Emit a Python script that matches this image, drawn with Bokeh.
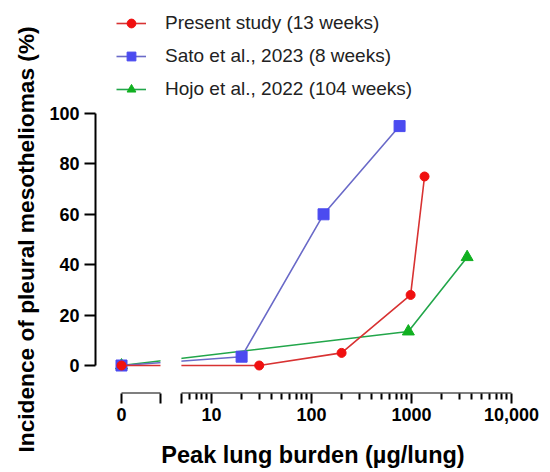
import numpy as np
from bokeh.plotting import figure
from bokeh.models import (LogAxis, FixedTicker, Range1d, BoxAnnotation,
                          Legend, LegendItem, Title)
from bokeh.embed import file_html
from bokeh.resources import INLINE

# ---------------- data ----------------
series_names = ["Present study (13 weeks)",
                "Sato et al., 2023 (8 weeks)",
                "Hojo et al., 2022 (104 weeks)"]

present_dose = [0, 30, 200, 980, 1350]
present_inc = [0, 0, 5, 28, 75]

sato_dose = [0, 20, 132, 760]
sato_inc = [0, 3.5, 60, 95]

hojo_dose = [0, 930, 3600]
hojo_inc = [0, 13.5, 43]

x_tick_values = [0, 10, 100, 1000, 10000]
x_tick_labels = ["0", "10", "100", "1000", "10,000"]
y_tick_values = [0, 20, 40, 60, 80, 100]

x_title = "Peak lung burden (µg/lung)"
y_title = "Incidence of pleural mesotheliomas (%)"

# ---------------- broken-axis geometry ----------------
ZERO_POS = 10 ** 0.1      # where a dose of 0 is placed on the log scale
SEG1_END = 10 ** 0.49     # end of the "0" segment
SEG2_START = 5.0          # start of the log segment
LOG_END = 10000.0

def pos(doses):
    return [ZERO_POS if d == 0 else d for d in doses]

FONT = "Liberation Sans"
Y0, Y1 = -11.11, 144.84

p = figure(width=550, height=472, x_axis_type="log",
           x_range=Range1d(10 ** -0.16, 10 ** 4.19),
           y_range=Range1d(Y0, Y1),
           output_backend="svg", toolbar_location=None,
           min_border_left=95, min_border_right=20,
           min_border_top=0, min_border_bottom=79)
p.outline_line_color = None
p.xgrid.visible = False
p.ygrid.visible = False
p.background_fill_color = "white"

# ---------------- series ----------------
colors = {
    "present": ("#F01010", "#D83232"),
    "sato": ("#4B4BF0", "#6A6AC8"),
    "hojo": ("#10B020", "#22A64A"),
}

g_line = p.line(pos(hojo_dose), hojo_inc, line_color=colors["hojo"][1], line_width=1.6)
g_pts = p.scatter(pos(hojo_dose), hojo_inc, marker="triangle", size=12,
                  fill_color=colors["hojo"][0], line_color=colors["hojo"][0])
b_line = p.line(pos(sato_dose), sato_inc, line_color=colors["sato"][1], line_width=1.6)
b_pts = p.scatter(pos(sato_dose), sato_inc, marker="square", size=11,
                  fill_color=colors["sato"][0], line_color=colors["sato"][0])
r_line = p.line(pos(present_dose), present_inc, line_color=colors["present"][1], line_width=1.6)
r_pts = p.scatter(pos(present_dose), present_inc, marker="circle", size=9,
                  fill_color=colors["present"][0], line_color=colors["present"][0])

# gap of the broken axis
gap = BoxAnnotation(left=SEG1_END, right=SEG2_START, bottom=-8, top=15,
                    fill_color="white", fill_alpha=1.0, line_color=None)
p.add_layout(gap)

# ---------------- axes ----------------
major = [pos([v])[0] for v in x_tick_values] + [SEG1_END, SEG2_START]
overrides = {pos([v])[0]: lab for v, lab in zip(x_tick_values, x_tick_labels)}
overrides[SEG1_END] = ""
overrides[SEG2_START] = ""
minor = []
for dec in [1, 10, 100, 1000]:
    for m in range(2, 10):
        t = m * dec
        if SEG2_START < t < LOG_END and t not in (10, 100, 1000):
            minor.append(float(t))

xa = p.xaxis[0]
xa.ticker = FixedTicker(ticks=major, minor_ticks=minor)
xa.bounds = (ZERO_POS, LOG_END)
xa.major_label_overrides = overrides
xa.axis_line_color = None
xa.major_tick_out = 10
xa.major_tick_in = 0
xa.minor_tick_out = 6
xa.minor_tick_in = 0
xa.major_tick_line_width = 2
xa.minor_tick_line_width = 2
xa.major_label_standoff = 4
xa.major_label_text_font = FONT
xa.major_label_text_font_style = "bold"
xa.major_label_text_font_size = "18px"
xa.major_label_text_color = "black"
xa.axis_label = x_title
xa.axis_label_text_font = FONT
xa.axis_label_text_font_style = "bold"
xa.axis_label_text_font_size = "23.5px"
xa.axis_label_text_color = "black"
xa.axis_label_standoff = 18

for lo, hi in [(ZERO_POS, SEG1_END), (SEG2_START, LOG_END)]:
    seg = LogAxis(fixed_location=Y0, bounds=(lo, hi),
                  ticker=FixedTicker(ticks=[], minor_ticks=[]),
                  axis_line_width=2, axis_line_color="black",
                  major_tick_line_color=None, minor_tick_line_color=None,
                  major_label_text_font_size="0px")
    p.add_layout(seg, "below")

ya = p.yaxis[0]
ya.ticker = FixedTicker(ticks=y_tick_values, minor_ticks=[])
ya.bounds = (0, 100)
ya.axis_line_width = 2
ya.major_tick_line_width = 2
ya.major_tick_out = 11
ya.major_tick_in = 0
ya.minor_tick_line_color = None
ya.major_label_standoff = 5
ya.major_label_text_font = FONT
ya.major_label_text_font_style = "bold"
ya.major_label_text_font_size = "18px"
ya.major_label_text_color = "black"

# y title as a side title so it can be centred on the 0-100 spine
ytitle = Title(text=y_title, align="left", offset=-59, standoff=16,
               text_font=FONT, text_font_style="bold", text_font_size="22.7px",
               text_color="black")
p.add_layout(ytitle, "left")

# ---------------- legend ----------------
legend = Legend(items=[
    LegendItem(label=series_names[0], renderers=[r_line, r_pts]),
    LegendItem(label=series_names[1], renderers=[b_line, b_pts]),
    LegendItem(label=series_names[2], renderers=[g_line, g_pts]),
], location=(21, 293), padding=2, spacing=11, margin=0,
   glyph_width=30, glyph_height=22, label_height=22, label_standoff=19,
   label_text_font=FONT, label_text_font_size="19px", label_text_color="#222222",
   border_line_color=None, background_fill_alpha=0)
p.add_layout(legend)

open("out.html", "w").write(file_html(p, INLINE))
